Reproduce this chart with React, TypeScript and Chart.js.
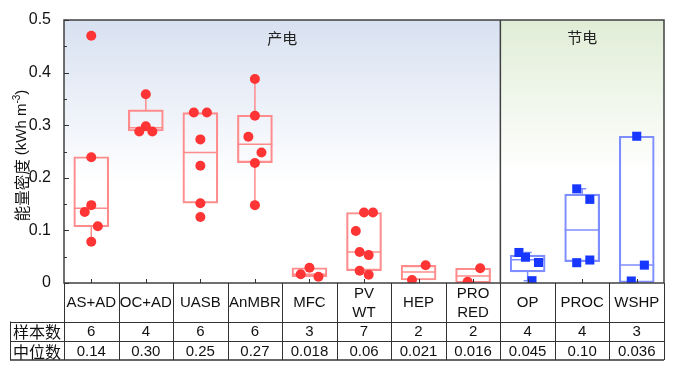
import React, { useEffect, useRef } from "react";
import { Chart, registerables } from "chart.js";

Chart.register(...registerables);

// ---------- data ----------
const categories: string[][] = [
  ["AS+AD"], ["OC+AD"], ["UASB"], ["AnMBR"], ["MFC"], ["PV", "WT"],
  ["HEP"], ["PRO", "RED"], ["OP"], ["PROC"], ["WSHP"],
];
const generationCount = 8; // first 8 categories: 产电, remaining: 节电
const sampleCounts = ["6", "4", "6", "6", "3", "7", "2", "2", "4", "4", "3"];
const medianLabels = ["0.14", "0.30", "0.25", "0.27", "0.018", "0.06", "0.021", "0.016", "0.045", "0.10", "0.036"];

const boxQ1 = [0.107, 0.289, 0.152, 0.229, 0.012, 0.0234, 0.0057, 0.0005, 0.021, 0.0405, 0.001];
const boxMedian = [0.142, 0.295, 0.248, 0.264, 0.0165, 0.059, 0.021, 0.0135, 0.044, 0.1008, 0.034];
const boxQ3 = [0.24, 0.329, 0.324, 0.319, 0.029, 0.134, 0.0336, 0.028, 0.053, 0.169, 0.279];
const whiskerLow = [0.08, 0.289, 0.152, 0.15, 0.012, 0.0234, 0.0057, 0.0005, 0.0044, 0.04, 0.001];
const whiskerHigh = [0.24, 0.36, 0.324, 0.39, 0.029, 0.134, 0.0336, 0.028, 0.058, 0.179, 0.279];

const pointValues: number[][] = [
  [0.47, 0.239, 0.148, 0.135, 0.108, 0.0785],
  [0.359, 0.298, 0.288, 0.288],
  [0.324, 0.324, 0.273, 0.223, 0.1515, 0.1255],
  [0.388, 0.318, 0.278, 0.248, 0.228, 0.148],
  [0.029, 0.0165, 0.012],
  [0.134, 0.134, 0.099, 0.059, 0.053, 0.0234, 0.0158],
  [0.0336, 0.0057],
  [0.028, 0.0025],
  [0.058, 0.049, 0.039, 0.0044],
  [0.179, 0.159, 0.0386, 0.0437],
  [0.279, 0.034, 0.0038],
];
const pointJitter: number[][] = [
  [0, 0, 0, -0.12, 0.12, 0],
  [0, 0, -0.12, 0.12],
  [-0.12, 0.12, 0, 0, 0, 0],
  [0, 0, -0.12, 0.12, 0, 0],
  [0, -0.16, 0.165],
  [0, 0.165, -0.15, -0.08, 0.086, -0.08, 0.086],
  [0.13, -0.12],
  [0.13, -0.1],
  [-0.16, -0.04, 0.2, 0.08],
  [-0.1, 0.14, -0.1, 0.14],
  [0, 0.14, -0.1],
];
const yTickValues = [0, 0.1, 0.2, 0.3, 0.4, 0.5];
const regionLabels = ["产电", "节电"];
const rowLabels = ["样本数", "中位数"];
const yTitleMain = "能量密度";
const yTitleUnit = " (kWh m";
const yTitleSup = "-3";

// ---------- styles ----------
const RED = "#ff3535";
const RED_BOX = "#ff8c8c";
const BLUE = "#1737ff";
const BLUE_BOX = "#7f8eff";
const LATIN = "'Liberation Sans', Arial, sans-serif";
const CJK = "'Noto Sans CJK SC', 'Liberation Sans', sans-serif";

const isGen = (i: number) => i < generationCount;

const customPlugin = {
  id: "customDecor",
  beforeDraw(chart: any) {
    const { ctx, chartArea: ca, scales } = chart;
    const split = scales.x.getPixelForValue(generationCount - 0.5);
    ctx.save();
    const g1 = ctx.createLinearGradient(0, ca.top, 0, ca.bottom);
    g1.addColorStop(0, "#d8e1f1");
    g1.addColorStop(0.62, "#ffffff");
    g1.addColorStop(1, "#ffffff");
    ctx.fillStyle = g1;
    ctx.fillRect(ca.left, ca.top, split - ca.left, ca.bottom - ca.top);
    const g2 = ctx.createLinearGradient(0, ca.top, 0, ca.bottom);
    g2.addColorStop(0, "#e0edd6");
    g2.addColorStop(0.58, "#ffffff");
    g2.addColorStop(1, "#ffffff");
    ctx.fillStyle = g2;
    ctx.fillRect(split, ca.top, ca.right - split, ca.bottom - ca.top);
    ctx.restore();
  },
  beforeDatasetsDraw(chart: any) {
    const { ctx, chartArea: ca, scales } = chart;
    const x = scales.x, y = scales.y;
    ctx.save();
    ctx.beginPath();
    ctx.rect(ca.left, ca.top, ca.right - ca.left, ca.bottom - ca.top);
    ctx.clip();
    ctx.lineWidth = 1.5;
    for (let i = 0; i < categories.length; i++) {
      const cx = x.getPixelForValue(i);
      const half = 35 / 2;
      ctx.strokeStyle = isGen(i) ? RED_BOX : BLUE_BOX;
      // median
      const ym = y.getPixelForValue(boxMedian[i]);
      ctx.beginPath();
      ctx.moveTo(cx - half, ym);
      ctx.lineTo(cx + half, ym);
      ctx.stroke();
      // whiskers
      const yq3 = y.getPixelForValue(boxQ3[i]);
      const yq1 = y.getPixelForValue(boxQ1[i]);
      const yh = y.getPixelForValue(whiskerHigh[i]);
      const yl = y.getPixelForValue(whiskerLow[i]);
      if (yh < yq3 - 0.5) {
        ctx.beginPath();
        ctx.moveTo(cx, yq3);
        ctx.lineTo(cx, yh);
        ctx.moveTo(cx - 4, yh);
        ctx.lineTo(cx + 4, yh);
        ctx.stroke();
      }
      if (yl > yq1 + 0.5) {
        ctx.beginPath();
        ctx.moveTo(cx, yq1);
        ctx.lineTo(cx, yl);
        ctx.moveTo(cx - 4, yl);
        ctx.lineTo(cx + 4, yl);
        ctx.stroke();
      }
    }
    ctx.restore();
  },
  afterDatasetsDraw(chart: any) {
    const { ctx, chartArea: ca, scales } = chart;
    const x = scales.x, y = scales.y;
    const split = x.getPixelForValue(generationCount - 0.5);
    ctx.save();
    // frame
    ctx.strokeStyle = "#404040";
    ctx.lineWidth = 1.5;
    ctx.strokeRect(ca.left, ca.top, ca.right - ca.left, ca.bottom - ca.top);
    ctx.beginPath();
    ctx.moveTo(split, ca.top);
    ctx.lineTo(split, ca.bottom);
    ctx.stroke();
    // y ticks (inward)
    ctx.lineWidth = 1;
    ctx.strokeStyle = "#333";
    ctx.beginPath();
    for (let k = 0; k < yTickValues.length; k++) {
      const v = yTickValues[k];
      const py = Math.round(y.getPixelForValue(v)) + 0.5;
      ctx.moveTo(ca.left, py);
      ctx.lineTo(ca.left + 5, py);
      if (k < yTickValues.length - 1) {
        const pm = Math.round(y.getPixelForValue((v + yTickValues[k + 1]) / 2)) + 0.5;
        ctx.moveTo(ca.left, pm);
        ctx.lineTo(ca.left + 3, pm);
      }
    }
    // x ticks (inward)
    for (let i = 0; i < categories.length; i++) {
      const px = Math.round(x.getPixelForValue(i)) + 0.5;
      ctx.moveTo(px, ca.bottom);
      ctx.lineTo(px, ca.bottom - 4);
    }
    ctx.stroke();

    // region labels
    ctx.fillStyle = "#222";
    ctx.font = `15px ${CJK}`;
    ctx.textAlign = "center";
    ctx.textBaseline = "middle";
    ctx.fillText(regionLabels[0], (ca.left + split) / 2, ca.top + 18);
    ctx.fillText(regionLabels[1], (split + ca.right) / 2, ca.top + 17);

    // table
    const r0 = ca.bottom;
    const r1 = ca.bottom + 38.5;
    const r2 = r1 + 19.5;
    const r3 = r2 + 19;
    const tLeft = 10;
    ctx.strokeStyle = "#333";
    ctx.lineWidth = 1;
    ctx.beginPath();
    for (let i = 0; i <= categories.length; i++) {
      const bx = Math.round(x.getPixelForValue(i - 0.5)) + 0.5;
      ctx.moveTo(bx, r0);
      ctx.lineTo(bx, r3);
    }
    ctx.moveTo(tLeft + 0.5, r1);
    ctx.lineTo(tLeft + 0.5, r3);
    ctx.moveTo(tLeft, Math.round(r1) + 0.5);
    ctx.lineTo(ca.right, Math.round(r1) + 0.5);
    ctx.moveTo(tLeft, Math.round(r2) + 0.5);
    ctx.lineTo(ca.right, Math.round(r2) + 0.5);
    ctx.stroke();
    ctx.lineWidth = 1.5;
    ctx.beginPath();
    ctx.moveTo(tLeft, r3);
    ctx.lineTo(ca.right, r3);
    ctx.stroke();

    ctx.fillStyle = "#111";
    ctx.textAlign = "center";
    ctx.textBaseline = "middle";
    ctx.font = `15px ${LATIN}`;
    for (let i = 0; i < categories.length; i++) {
      const cx = x.getPixelForValue(i);
      const lines = categories[i];
      const mid = (r0 + r1) / 2 + 1;
      if (lines.length === 1) {
        ctx.fillText(lines[0], cx, mid);
      } else {
        ctx.fillText(lines[0], cx, mid - 9.5);
        ctx.fillText(lines[1], cx, mid + 9.5);
      }
      ctx.fillText(sampleCounts[i], cx, (r1 + r2) / 2 + 1);
      ctx.fillText(medianLabels[i], cx, (r2 + r3) / 2 + 1);
    }
    ctx.font = `16px ${CJK}`;
    ctx.fillText(rowLabels[0], (tLeft + ca.left) / 2, (r1 + r2) / 2 + 1);
    ctx.fillText(rowLabels[1], (tLeft + ca.left) / 2, (r2 + r3) / 2 + 1);

    // y title
    ctx.save();
    ctx.translate(22, (ca.top + ca.bottom) / 2 + 4);
    ctx.rotate(-Math.PI / 2);
    ctx.textAlign = "left";
    ctx.textBaseline = "middle";
    ctx.font = `15.5px ${CJK}`;
    const w1 = ctx.measureText(yTitleMain).width;
    ctx.font = `15px ${LATIN}`;
    const w2 = ctx.measureText(yTitleUnit).width;
    const w4 = ctx.measureText(")").width;
    ctx.font = `10px ${LATIN}`;
    const w3 = ctx.measureText(yTitleSup).width;
    let sx = -(w1 + w2 + w3 + w4) / 2;
    ctx.fillStyle = "#111";
    ctx.font = `15.5px ${CJK}`;
    ctx.fillText(yTitleMain, sx, 0);
    sx += w1;
    ctx.font = `15px ${LATIN}`;
    ctx.fillText(yTitleUnit, sx, 0);
    sx += w2;
    ctx.font = `10px ${LATIN}`;
    ctx.fillText(yTitleSup, sx, -5);
    sx += w3;
    ctx.font = `15px ${LATIN}`;
    ctx.fillText(")", sx, 0);
    ctx.restore();

    ctx.restore();
  },
};

export default function App() {
  const canvasRef = useRef<HTMLCanvasElement | null>(null);

  useEffect(() => {
    if (!canvasRef.current) return;
    const boxData = categories.map((_, i) => ({ x: i, y: [boxQ1[i], boxQ3[i]] }));
    const redPts: { x: number; y: number }[] = [];
    const bluePts: { x: number; y: number }[] = [];
    pointValues.forEach((vals, i) => {
      vals.forEach((v, j) => {
        const p = { x: i + pointJitter[i][j], y: v };
        (isGen(i) ? redPts : bluePts).push(p);
      });
    });

    const chart = new Chart(canvasRef.current, {
      type: "bar",
      data: {
        datasets: [
          {
            type: "bar",
            label: "box",
            data: boxData as any,
            backgroundColor: "rgba(0,0,0,0)",
            borderColor: categories.map((_, i) => (isGen(i) ? RED_BOX : BLUE_BOX)),
            borderWidth: 1.5,
            borderSkipped: false,
            barThickness: 35,
            order: 3,
          } as any,
          {
            type: "scatter",
            label: "gen",
            data: redPts,
            pointStyle: "circle",
            pointRadius: 5,
            pointBackgroundColor: RED,
            pointBorderWidth: 0,
            order: 1,
          } as any,
          {
            type: "scatter",
            label: "save",
            data: bluePts,
            pointStyle: "rect",
            pointRadius: 6.4,
            pointBackgroundColor: BLUE,
            pointBorderWidth: 0,
            order: 0,
          } as any,
        ],
      },
      options: {
        animation: false,
        responsive: true,
        maintainAspectRatio: false,
        layout: { padding: { left: 0, top: 20, right: 15, bottom: 92 } },
        plugins: { legend: { display: false }, tooltip: { enabled: false } },
        scales: {
          x: {
            type: "linear",
            min: -0.5,
            max: 10.5,
            offset: false,
            bounds: "ticks",
            display: false,
          },
          y: {
            type: "linear",
            min: 0,
            max: 0.5,
            grid: { display: false },
            border: { display: false },
            ticks: {
              stepSize: 0.1,
              padding: 5,
              color: "#111",
              font: { size: 16, family: LATIN },
              callback: (v: any) => String(Math.round(Number(v) * 10) / 10),
            },
            afterFit: (scale: any) => {
              scale.width = 64;
            },
          },
        },
      },
      plugins: [customPlugin],
    });
    return () => chart.destroy();
  }, []);

  return (
    <div style={{ position: "fixed", left: 0, top: 0, width: 679, height: 375, background: "#fff" }}>
      <canvas ref={canvasRef} />
    </div>
  );
}
